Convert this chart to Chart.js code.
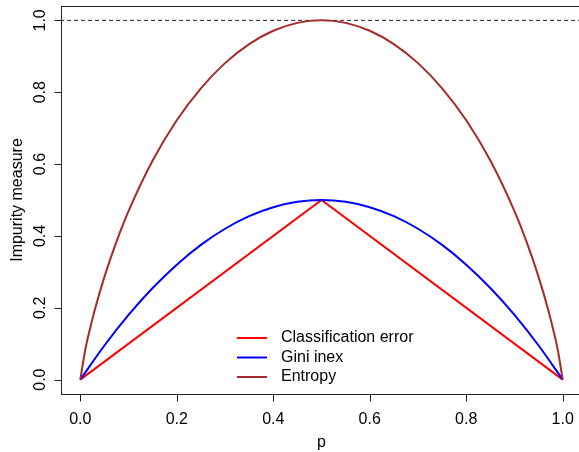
<!DOCTYPE html>
<html>
<head>
<meta charset="utf-8">
<script src="https://cdn.jsdelivr.net/npm/chart.js@4/dist/chart.umd.min.js"></script>
<style>
  html, body { margin: 0; padding: 0; background: #fff; overflow: hidden; }
  #wrap { width: 600px; height: 452px; }
</style>
</head>
<body>
<div id="wrap"><canvas id="c" width="600" height="452"></canvas></div>
<script>
// values
const entropyP = [0, 0.01, 0.02, 0.03, 0.05, 0.075, 0.1, 0.15, 0.2, 0.25, 0.3, 0.35, 0.4, 0.45, 0.5,
  0.55, 0.6, 0.65, 0.7, 0.75, 0.8, 0.85, 0.9, 0.925, 0.95, 0.97, 0.98, 0.99, 1];
const entropyVals = [0, 0.081, 0.141, 0.194, 0.286, 0.384, 0.469, 0.610, 0.722, 0.811, 0.881, 0.934, 0.971, 0.993, 1.000,
  0.993, 0.971, 0.934, 0.881, 0.811, 0.722, 0.610, 0.469, 0.384, 0.286, 0.194, 0.141, 0.081, 0];

const giniP = [0, 0.05, 0.1, 0.15, 0.2, 0.25, 0.3, 0.35, 0.4, 0.45, 0.5,
  0.55, 0.6, 0.65, 0.7, 0.75, 0.8, 0.85, 0.9, 0.95, 1];
const giniVals = [0, 0.095, 0.18, 0.255, 0.32, 0.375, 0.42, 0.455, 0.48, 0.495, 0.5,
  0.495, 0.48, 0.455, 0.42, 0.375, 0.32, 0.255, 0.18, 0.095, 0];

const errorP = [0, 0.5, 1];
const errorVals = [0, 0.5, 0];

const refP = [-0.1, 1.1];
const refVals = [1, 1];

const xTicks = [0, 0.2, 0.4, 0.6, 0.8, 1.0];
const yTicks = [0, 0.2, 0.4, 0.6, 0.8, 1.0];

const seriesNames = ['Classification error', 'Gini inex', 'Entropy'];
const seriesColors = ['#ff0000', '#0000ff', '#a52a2a'];

const FONT = "'Liberation Sans', Arial, sans-serif";

function pts(xs, ys) {
  return xs.map((x, i) => ({ x: x, y: ys[i] }));
}

// R-style box, tick marks, rotated y labels and legend
const boxPlugin = {
  id: 'rbox',
  afterDraw(chart) {
    const { ctx, chartArea: a, scales } = chart;
    const L = Math.round(a.left) + 0.5, T = Math.round(a.top) + 0.5;
    const B = Math.round(a.bottom) + 0.5;
    ctx.save();
    ctx.strokeStyle = '#222';
    ctx.lineWidth = 1;
    ctx.setLineDash([]);
    ctx.strokeRect(L, T, Math.round(a.right - a.left), Math.round(a.bottom - a.top));

    ctx.beginPath();
    xTicks.forEach(v => {
      const x = Math.round(scales.x.getPixelForValue(v)) + 0.5;
      ctx.moveTo(x, B); ctx.lineTo(x, B + 7);
    });
    yTicks.forEach(v => {
      const y = Math.round(scales.y.getPixelForValue(v)) + 0.5;
      ctx.moveTo(L, y); ctx.lineTo(L - 7, y);
    });
    ctx.stroke();

    ctx.font = '16px ' + FONT;
    ctx.fillStyle = '#000';
    ctx.textAlign = 'center';
    ctx.textBaseline = 'middle';
    yTicks.forEach(v => {
      const y = scales.y.getPixelForValue(v);
      ctx.save();
      ctx.translate(41, y);
      ctx.rotate(-Math.PI / 2);
      ctx.fillText(v.toFixed(1), 0, 0);
      ctx.restore();
    });

    // legend (bty = "n")
    const lx = 237, ly = 338, step = 19.5;
    ctx.textAlign = 'left';
    seriesNames.forEach((name, i) => {
      const y = ly + i * step;
      ctx.strokeStyle = seriesColors[i];
      ctx.lineWidth = 2;
      ctx.beginPath();
      ctx.moveTo(lx, y);
      ctx.lineTo(lx + 30, y);
      ctx.stroke();
      ctx.fillText(name, lx + 44, y);
    });
    ctx.restore();
  }
};

const ctx = document.getElementById('c').getContext('2d');
new Chart(ctx, {
  type: 'line',
  data: {
    datasets: [
      { label: seriesNames[0], data: pts(errorP, errorVals), borderColor: seriesColors[0], borderWidth: 2, pointRadius: 0, tension: 0, order: 3 },
      { label: seriesNames[1], data: pts(giniP, giniVals), borderColor: seriesColors[1], borderWidth: 2, pointRadius: 0, cubicInterpolationMode: 'monotone', order: 2 },
      { label: seriesNames[2], data: pts(entropyP, entropyVals), borderColor: seriesColors[2], borderWidth: 2, pointRadius: 0, cubicInterpolationMode: 'monotone', order: 1 },
      { label: 'ref', data: pts(refP, refVals), borderColor: '#222', borderWidth: 1, borderDash: [4, 3], pointRadius: 0, order: 4 }
    ]
  },
  options: {
    responsive: false,
    animation: false,
    layout: { padding: { top: 6, right: 18, left: 0, bottom: 0 } },
    plugins: { legend: { display: false }, tooltip: { enabled: false } },
    scales: {
      x: {
        type: 'linear',
        min: -0.04, max: 1.04,
        afterBuildTicks: s => { s.ticks = xTicks.map(v => ({ value: v })); },
        afterFit: s => { s.height = 58; },
        grid: { display: false },
        border: { display: false },
        ticks: { font: { family: FONT, size: 16 }, color: '#000', padding: 8, maxRotation: 0,
          callback: v => v.toFixed(1) },
        title: { display: true, text: 'p', font: { family: FONT, size: 16 }, color: '#000', padding: 0 }
      },
      y: {
        min: -0.04, max: 1.04,
        afterBuildTicks: s => { s.ticks = yTicks.map(v => ({ value: v })); },
        afterFit: s => { s.width = 61; },
        grid: { display: false },
        border: { display: false },
        ticks: { display: false },
        title: { display: true, text: 'Impurity measure', font: { family: FONT, size: 16 }, color: '#000', padding: { top: 8, bottom: 0 } }
      }
    }
  },
  plugins: [boxPlugin]
});
</script>
</body>
</html>
